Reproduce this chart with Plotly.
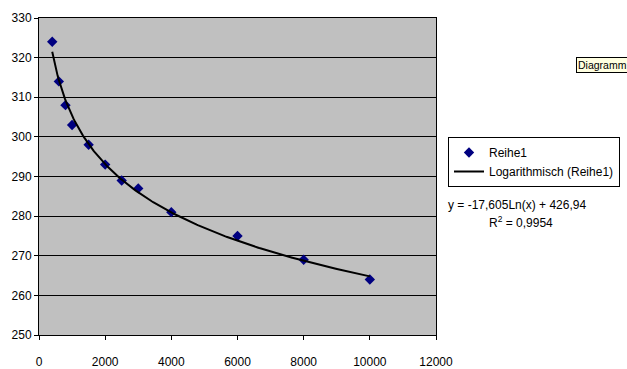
import numpy as np
import plotly.graph_objects as go

x_vals = [400, 600, 800, 1000, 1500, 2000, 2500, 3000, 4000, 6000, 8000, 10000]
y_vals = [324, 314, 308, 303, 298, 293, 289, 287, 281, 275, 269, 264]

trend_slope = -17.605
trend_intercept = 426.94
r_squared = "0,9954"

x_ticks = [0, 2000, 4000, 6000, 8000, 10000, 12000]
x_tick_text = ["0", "2000", "4000", "6000", "8000", "10000", "12000"]
y_ticks = [250, 260, 270, 280, 290, 300, 310, 320, 330]

xt = np.linspace(min(x_vals), max(x_vals), 300)
yt = trend_slope * np.log(xt) + trend_intercept

fig = go.Figure()
fig.add_trace(go.Scatter(x=x_vals, y=y_vals, mode="markers", name="Reihe1",
                         marker=dict(symbol="diamond", size=8, color="#000080")))
fig.add_trace(go.Scatter(x=xt, y=yt, mode="lines", name="Logarithmisch (Reihe1)",
                         line=dict(color="black", width=2)))

font = dict(family="Liberation Sans, Arial", size=12, color="black")

eq_text = "y = %sLn(x) + %s" % (str(trend_slope).replace(".", ","),
                               str(trend_intercept).replace(".", ","))

L, R, T, B = 39, 191, 18, 34
PW, PH = 627 - L - R, 369 - T - B

fig.update_layout(
    width=627, height=369,
    margin=dict(l=L, r=R, t=T, b=B, autoexpand=False),
    paper_bgcolor="white", plot_bgcolor="#C0C0C0",
    font=font,
    showlegend=True,
    legend=dict(x=(448 - L) / PW, y=(335 - 137) / PH, xanchor="left", yanchor="top",
                bgcolor="white", bordercolor="black", borderwidth=1,
                font=font, tracegroupgap=0, itemwidth=30),
    xaxis=dict(range=[0, 12000], tickvals=x_ticks, ticktext=x_tick_text,
               showgrid=False, zeroline=False, automargin=False,
               showline=True, linecolor="black", linewidth=1, mirror=True,
               ticks="outside", ticklen=4, tickcolor="black", ticklabelstandoff=12),
    yaxis=dict(range=[250, 330], tickvals=y_ticks, showgrid=True, gridcolor="black",
               gridwidth=1, zeroline=False, automargin=False,
               showline=True, linecolor="black", linewidth=1, mirror=True,
               ticks="outside", ticklen=4, tickcolor="black"),
    annotations=[
        dict(xref="paper", yref="paper", x=(446 - L) / PW, y=(335 - 205) / PH,
             xanchor="left", yanchor="middle", showarrow=False,
             text=eq_text, font=font),
        dict(xref="paper", yref="paper", x=(521 - L) / PW, y=(335 - 222) / PH,
             xanchor="center", yanchor="middle", showarrow=False,
             text="R<sup>2</sup> = " + r_squared, font=font),
        dict(xref="paper", yref="paper", x=(576 - L) / PW, y=(335 - 65) / PH,
             xanchor="left", yanchor="middle", showarrow=False,
             text="Diagramm", bgcolor="#FFFFE1", bordercolor="black", borderwidth=1,
             borderpad=1, font=dict(family="Liberation Sans, Arial", size=10.5, color="black")),
    ],
)

fig.write_html("out.html", config={"displayModeBar": False},
               post_script="document.body.style.margin='0';document.body.style.overflow='hidden';")
